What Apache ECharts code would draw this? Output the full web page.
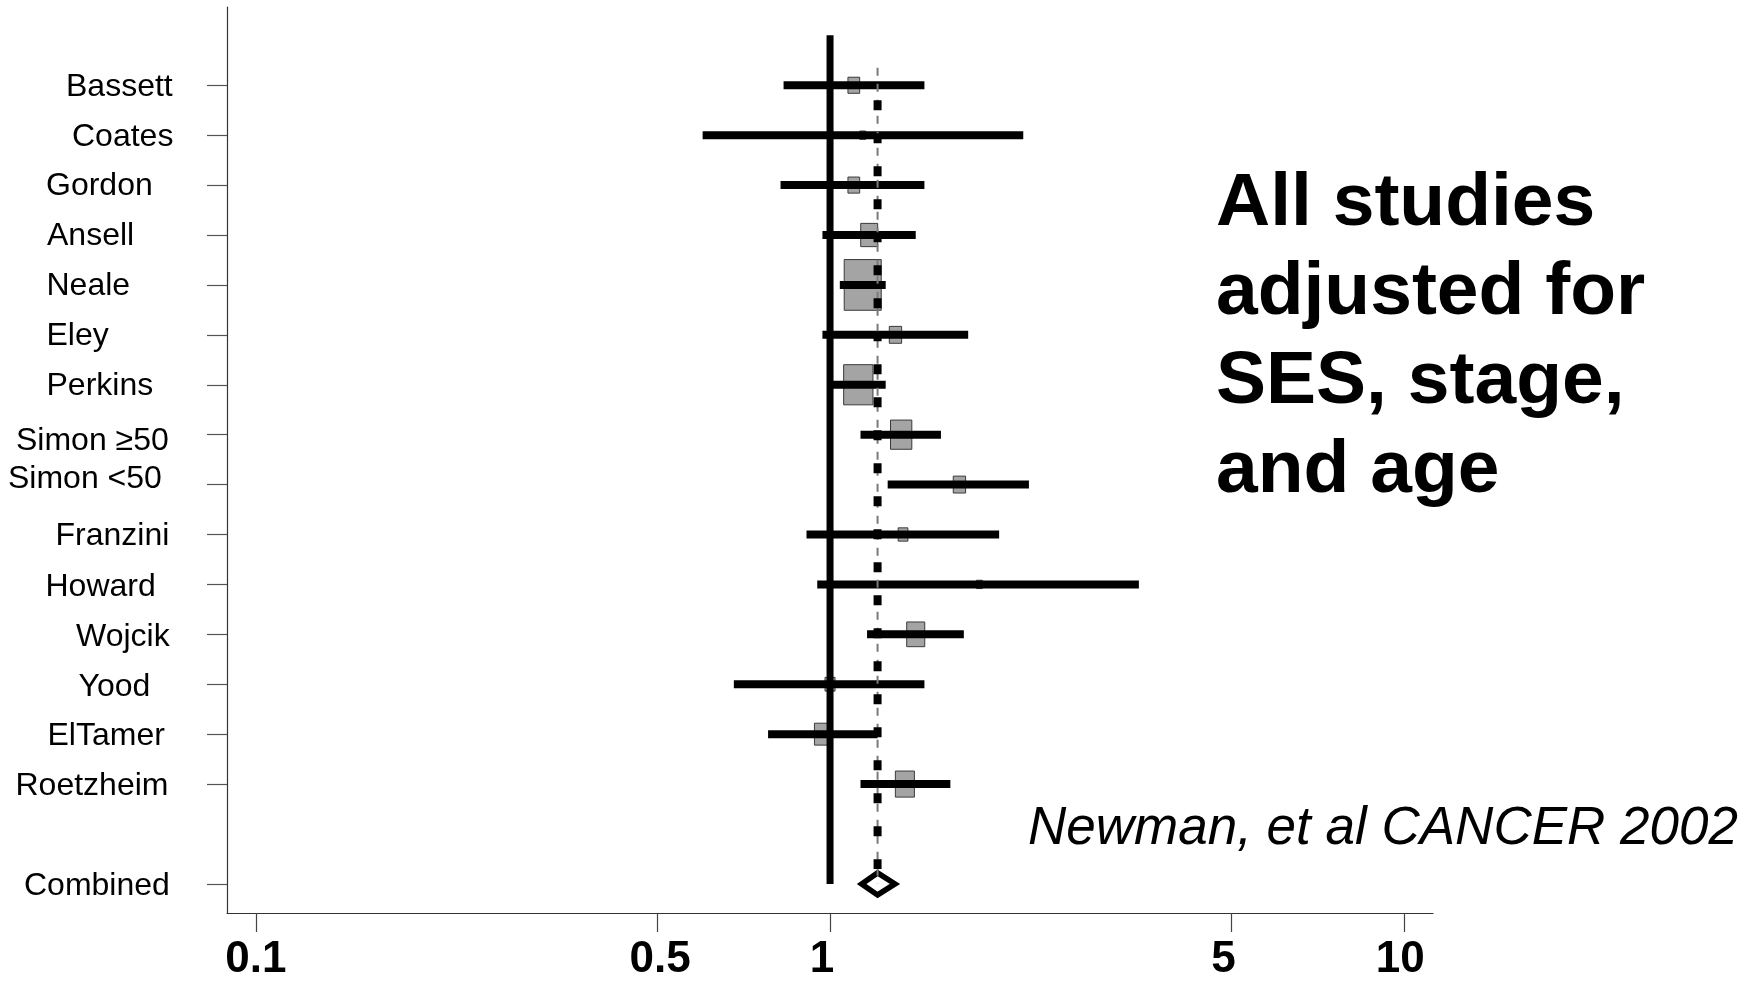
<!DOCTYPE html>
<html><head><meta charset="utf-8">
<script src="https://cdn.jsdelivr.net/npm/echarts@6/dist/echarts.min.js"></script>
<style>html,body{margin:0;padding:0;background:#fff;}#c{width:1760px;height:982px;}</style>
</head><body><div id="c"></div>
<script>
// ---------------- data ----------------
const studies = ['Bassett','Coates','Gordon','Ansell','Neale','Eley','Perkins','Simon \u226550','Simon <50','Franzini','Howard','Wojcik','Yood','ElTamer','Roetzheim'];
const oddsRatio = [1.10, 1.14, 1.10, 1.17, 1.14, 1.30, 1.12, 1.33, 1.68, 1.34, 1.82, 1.41, 1.00, 0.97, 1.35];
const ciLow     = [0.83, 0.60, 0.82, 0.97, 1.04, 0.97, 1.005, 1.13, 1.26, 0.91, 0.95, 1.16, 0.68, 0.78, 1.13];
const ciHigh    = [1.46, 2.17, 1.46, 1.41, 1.25, 1.74, 1.25, 1.56, 2.22, 1.97, 3.45, 1.71, 1.46, 1.21, 1.62];
const weight    = [8.6, 2.3, 8.6, 18, 85.6, 9.5, 53.7, 28.4, 9.5, 5.9, 2.3, 20.3, 6.3, 16, 22.6];
const combinedLabel = 'Combined';
const combinedOR = 1.21, combinedLow = 1.126, combinedHigh = 1.308;
const nullValue = 1;
const xTickValues = [0.1, 0.5, 1, 5, 10];
const titleLines = ['All studies', 'adjusted for', 'SES, stage,', 'and age'];
const citation = 'Newman, et al CANCER 2002';

// ---------------- layout / style ----------------
const FONT = '"Liberation Sans", Arial, Helvetica, sans-serif';
const labelLeft = [66, 72, 46, 47, 46.5, 46.5, 46.5, 16, 8, 55.5, 45.5, 76, 78.5, 47.5, 15.5, 24];
const labelDy   = [1.5, 1.5, 1.5, 1.5, 1.5, 1.5, 1.5, 6.5, -5.5, 1.5, 2.5, 2.5, 2.5, 2.5, 2.5, 2.5];
const tickLabelShift = [0, 3, -8, -8, -4];
const boxScale = 4, boxAspect = 1.37;

const rows = studies.map((s, i) => i + 1);
const combinedRow = studies.length + 2;
const tickRows = rows.concat([combinedRow]);
const allLabels = studies.concat([combinedLabel]);

const tickRich = {};
tickLabelShift.forEach((d, i) => {
  tickRich['t' + i] = {fontSize: 44, fontWeight: 'bold', fontFamily: FONT, color: '#000',
    padding: d >= 0 ? [0, 0, 0, 2 * d] : [0, -2 * d, 0, 0]};
});

const chart = echarts.init(document.getElementById('c'), null, {renderer: 'canvas'});

const option = {
  animation: false,
  backgroundColor: '#fff',
  grid: {left: 227, right: 327, top: 7, bottom: 64},
  xAxis: {
    type: 'log', logBase: 10, min: 0.0891, max: 11.22, position: 'bottom',
    axisLine: {show: true, onZero: false, lineStyle: {color: '#333', width: 1.2}},
    axisTick: {show: true, customValues: xTickValues, length: 19, lineStyle: {color: '#444', width: 1.2}},
    axisLabel: {customValues: xTickValues,
      formatter: v => {
        const i = xTickValues.findIndex(t => Math.abs(t - v) / t < 1e-6);
        return '{t' + i + '|' + String(+(+v).toPrecision(4)) + '}';
      },
      rich: tickRich,
      fontSize: 44, fontWeight: 'bold', fontFamily: FONT, color: '#000', margin: 25},
    splitLine: {show: false}, minorTick: {show: false}
  },
  yAxis: {
    type: 'value', inverse: true, min: -0.568, max: 17.583, position: 'left',
    axisLine: {show: true, onZero: false, lineStyle: {color: '#333', width: 1.2}},
    axisTick: {show: true, customValues: tickRows, length: 20, lineStyle: {color: '#555', width: 1.2}},
    axisLabel: {show: false},
    splitLine: {show: false}
  },
  series: [
    { // reference line at OR = 1
      type: 'line', silent: true, symbol: 'none',
      data: [[nullValue, 0], [nullValue, combinedRow]],
      lineStyle: {color: '#000', width: 7, cap: 'butt'}
    },
    { // weight boxes
      type: 'custom', silent: true,
      data: studies.map((s, i) => [oddsRatio[i], rows[i], weight[i]]),
      renderItem: (params, api) => {
        const c = api.coord([api.value(0), api.value(1)]);
        const w = boxScale * Math.sqrt(api.value(2));
        const h = w * boxAspect;
        return {type: 'rect', shape: {x: c[0] - w / 2, y: c[1] - h / 2, width: w, height: h},
          style: {fill: '#a4a4a4', stroke: '#3a3a3a', lineWidth: 1}};
      }
    },
    { // thin grey dashed line at combined estimate
      type: 'line', silent: true, symbol: 'none',
      data: [[combinedOR, 0.65], [combinedOR, combinedRow]],
      lineStyle: {color: '#7a7a7a', width: 2, type: [8, 8]}
    },
    { // thick black dotted line at combined estimate
      type: 'line', silent: true, symbol: 'none',
      data: [[combinedOR, 1.3], [combinedOR, combinedRow - 0.3]],
      lineStyle: {color: '#000', width: 8, type: [10, 23], cap: 'butt'}
    },
    { // confidence intervals
      type: 'custom', silent: true,
      data: studies.map((s, i) => [ciLow[i], ciHigh[i], rows[i]]),
      renderItem: (params, api) => {
        const a = api.coord([api.value(0), api.value(2)]);
        const b = api.coord([api.value(1), api.value(2)]);
        return {type: 'rect', shape: {x: a[0], y: a[1] - 4, width: b[0] - a[0], height: 8},
          style: {fill: '#000'}};
      }
    },
    { // combined diamond
      type: 'custom', silent: true,
      data: [[combinedOR, combinedLow, combinedHigh, combinedRow]],
      renderItem: (params, api) => {
        const m = api.coord([api.value(0), api.value(3)]);
        const l = api.coord([api.value(1), api.value(3)]);
        const r = api.coord([api.value(2), api.value(3)]);
        const hh = 11;
        return {type: 'polygon', shape: {points: [[l[0] + 2, l[1]], [m[0], m[1] - hh], [r[0] - 2, r[1]], [m[0], m[1] + hh]]},
          style: {fill: '#fff', stroke: '#000', lineWidth: 5.5, lineJoin: 'miter'}};
      }
    },
    { // study labels
      type: 'custom', silent: true, clip: false,
      data: tickRows.map((r, i) => [nullValue, r]),
      renderItem: (params, api) => {
        const i = params.dataIndex;
        const c = api.coord([api.value(0), api.value(1)]);
        return {type: 'text', x: labelLeft[i], y: c[1] + labelDy[i],
          style: {text: allLabels[i], fontSize: 32, fontFamily: FONT, fill: '#000',
            align: 'left', verticalAlign: 'middle'}};
      }
    }
  ],
  graphic: [
    {type: 'text', x: 1216, y: 338, silent: true,
      style: {text: titleLines.join('\n'), fontSize: 75, fontWeight: 'bold', fontFamily: FONT,
        fill: '#000', lineHeight: 89, align: 'left', verticalAlign: 'middle'}},
    {type: 'text', x: 1028, y: 829.5, silent: true,
      style: {text: citation, fontSize: 53, fontStyle: 'italic', fontFamily: FONT,
        fill: '#000', align: 'left', verticalAlign: 'middle'}}
  ]
};
chart.setOption(option);
</script>
</body></html>
